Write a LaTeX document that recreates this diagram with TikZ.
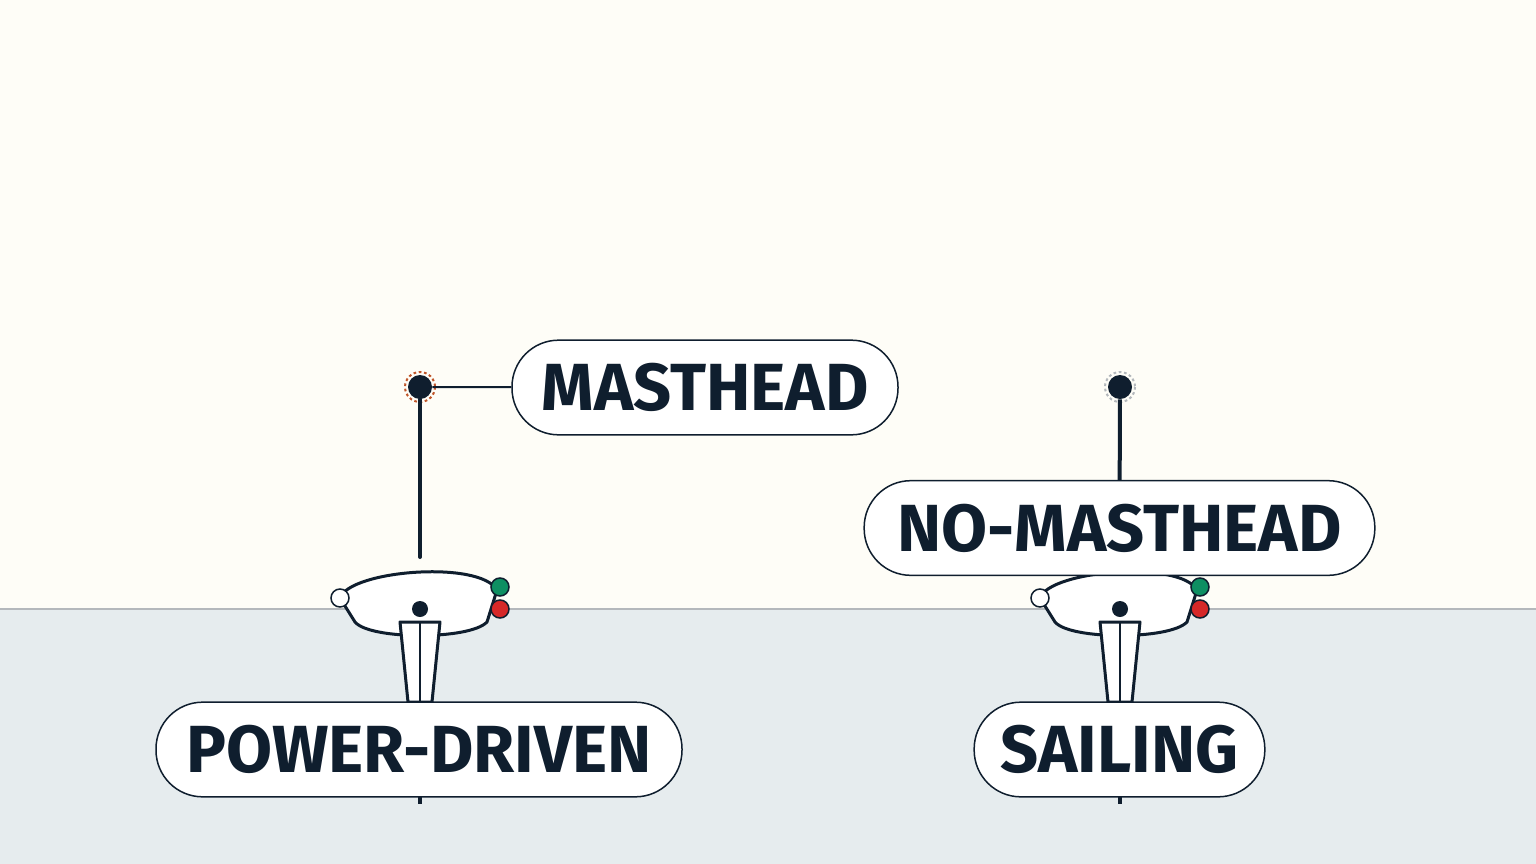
\documentclass[tikz,border=0pt]{standalone}
\usepackage{fontspec}
\setmainfont{Fira Sans}
\definecolor{ink}{HTML}{0F1E2E}
\definecolor{sky}{HTML}{FEFDF7}
\definecolor{sea}{HTML}{E6ECEE}
\definecolor{rim}{HTML}{B4B8BC}
\definecolor{orng}{HTML}{C0562A}
\definecolor{grn}{HTML}{0E8F62}
\definecolor{rd}{HTML}{D62828}
\tikzset{
  lbl/.style={draw=ink,line width=1.5pt*0.75,fill=white,rounded corners=35pt,inner sep=0pt,text=ink,font=\fontsize{50}{50}\selectfont\bfseries,minimum height=71pt},
  hull/.style={draw=ink,line width=3pt*0.75,fill=white,line join=round},
  lamp/.style={draw=ink,line width=1.5pt*0.75,minimum size=13.5pt,inner sep=0pt,circle}
}
\begin{document}
\begin{tikzpicture}[x=0.75pt,y=-0.75pt]
\useasboundingbox (0,0) rectangle (1536,864);
\fill[sky] (0,0) rectangle (1536,609);
\fill[sea] (0,609) rectangle (1536,864);
\draw[rim,line width=1.5pt] (0,609) -- (1536,609);
\foreach \dx/\nm/\rc in {0/L/orng,700/R/rim}{
  \begin{scope}[xshift=\dx*0.75pt]
  \draw[hull] (340,598) .. controls (350,570) and (480,560) .. (497,590) -- (487,622) .. controls (470,640) and (370,640) .. (355,622) -- cycle;
  \draw[hull] (400,622) -- (440,622) -- (432,702) -- (408,702) -- cycle;
  \draw[ink,line width=2.2pt] (420,622) -- (420,702);
  \fill[ink] (420,609) circle (8);
  \node[lamp,fill=white] (port\nm) at (340,598) {};
  \node[lamp,fill=grn] (g\nm) at (500,587) {};
  \node[lamp,fill=rd] (r\nm) at (500,609) {};
  \draw[\rc,line width=1.5pt,dash pattern=on 2pt off 2pt] (420,387) circle (15);
  \node[circle,fill=ink,minimum size=18pt,inner sep=0pt] (m\nm) at (420,387) {};
  \draw[ink,line width=3pt] (420,790) -- (420,804);
  \end{scope}
}
\node[lbl,minimum width=289.5pt] (mh) at (705,387.5) {MASTHEAD};
\node[lbl,minimum width=383pt] (nmh) at (1119.5,528) {NO-MASTHEAD};
\node[lbl,minimum width=394.5pt] (pd) at (419,749.5) {POWER-DRIVEN};
\node[lbl,minimum width=218pt] (sl) at (1119.5,749.5) {SAILING};
\draw[ink,line width=3pt,line cap=round] (mL) -- (420,557);
\draw[ink,line width=1.5pt] (mL) -- (mh);
\draw[ink,line width=3pt] (mR) -- (nmh);
\end{tikzpicture}
\end{document}
